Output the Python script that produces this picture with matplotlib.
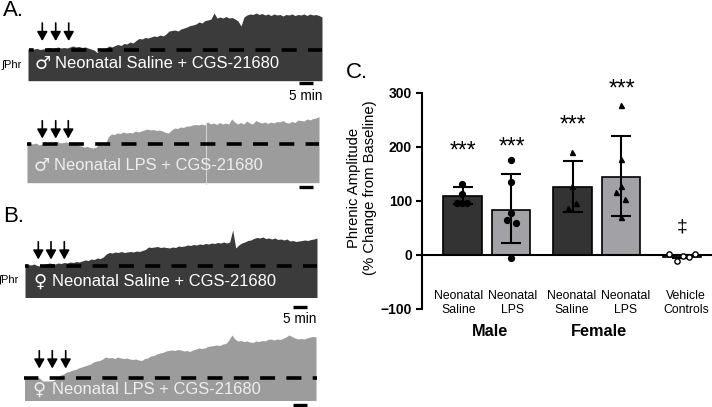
import matplotlib
matplotlib.use('Agg')
import matplotlib.pyplot as plt
import numpy as np

plt.rcParams['font.family'] = ['Liberation Sans', 'DejaVu Sans']
plt.rcParams['lines.scale_dashes'] = False

a1_top = [49,49.5,49,48.5,49.5,49,48.5,47.5,48.5,48,47,48,47.5,48,47,46,47,46.5,47.5,47,48,49,50,52.5,50,49,48,46,47,45.5,44.5,45.5,43.5,44,42,43,40.5,38.5,39,37.5,38,37,36,36.5,35,36,34,31,30.5,30,31,29,28,27,25.5,25,24,22,23,20.5,20,19,13,18,17,18,16.5,18,17.5,19,21,26,17,15,14,14.5,13,14.5,13.5,15,14,15.5,14,15,14.5,16,14.5,15,14,15.5,14.5,15,14,15.5,14,15,14.5,15.5,17]
a2_top = [144,143,144,143,145,144,143,144.5,143,142,141.5,143,142.5,142,143,143,144,145,146,147,146.5,147.5,148,147,143.5,145,144,137,134,134.5,133,133.5,132,133,132.5,133,131,132,131,130,129,130,129.5,130.5,130,131,132.5,133,130,128,128.5,127,127.5,126,126,125,124.5,125,124,125,122,124,123,124.5,122.5,124,123,124,119,122,124,122.5,124,121,123,124,120.5,122,123,122,123.5,122,123,121.5,122,120.5,122.5,123,121.5,122.5,120,120.5,121,119,120,118.5,118,116.5]
b1_top = [264,264.5,265,264,265.5,266,264.5,264,263,263.5,264,263,263.5,262.5,263,262,262.5,261.5,262,261,260,260.5,259,259.5,258,258.5,257,254,252.5,253,252,252.5,251.5,252.5,252,251.5,252,251,251.5,250.5,249.5,247,247.5,247,246.5,247.5,247,247.5,248,247,247.5,246,246.5,246,245,245.5,244.5,245,244,244.5,243.5,244,243,243.5,242.5,243,242,243,242,230,248,245,243,242,240.5,240,238.5,237.5,238,237,238.5,238,239,238,239.5,239,240,239,241,240.5,241.5,241,240.5,240,240.5,239.5,239,238]
b2_top = [377,377,377,377,377,378,381,381,381,381,380,377,375,374,372,371.5,370,369.5,368,367,366,365,364,362,361,360.5,359,357,358,357.5,358.5,357,358,358.5,358,359,359.5,359,360,360.5,358.5,358,356,355.5,354,353,352.5,351,350.5,350,350.5,349.5,350,351,350.5,351.5,350,349,348,348.5,348,346.5,346,345.5,345,345.5,344,343.5,340,335,339,341,340.5,341.5,341,342,342.5,341,341.5,340.5,341,339.5,339,340,339,339.5,338.5,337,335,336.5,338,339,338.5,339,338,337,336.5,337]

# bar chart values
bar_means = [108, 83, 125, 144, -4]
err_low = [93, 21, 79, 72, -6]
err_high = [126, 149, 173, 220, 0]
bar_colors = ['#333333', '#a2a2a6', '#333333', '#a2a2a6', '#a2a2a6']
bar_x = [462.5, 511, 572.5, 621, 682]
male_sal = [131, 113, 96, 96, 96]
male_lps = [175, 135, 78, 65, 59, -7]
fem_sal = [191, 127, 87, 95]
fem_lps = [278, 177, 127, 117, 103, 69]
vehicle = [1, -11, -5, 1, -2]
male_sal_x = [462.3, 462.3, 456.7, 462.3, 467.3]
male_lps_x = [511.3, 511.3, 511.3, 506.7, 515.7, 511.3]
fem_sal_x = [572.3, 572.3, 568.3, 576.3]
fem_lps_x = [621, 621, 621, 616.3, 625.3, 621]
vehicle_x = [669.3, 677.3, 689.3, 695, 683]
sig_x = [463, 511.7, 573.3, 621.7]
sig_y = [192, 200, 241, 307]
cat_labels = ['Neonatal\nSaline', 'Neonatal\nLPS', 'Neonatal\nSaline', 'Neonatal\nLPS', 'Vehicle\nControls']
cat_x = [459, 513, 572, 626, 686]
y_ticks = [-100, 0, 100, 200, 300]

W, H = 712, 407
fig = plt.figure(figsize=(W/100, H/100), dpi=100)

# panel C, x axis in figure pixels
ax = fig.add_axes([422.3/W, 1-308.7/H, (712-422.3)/W, (308.7-92.7)/H])
ax.set_xlim(422.3, 712)
ax.set_ylim(-100, 300)
ax.patch.set_alpha(0)
for s in ['top', 'right', 'bottom']:
    ax.spines[s].set_visible(False)
ax.spines['left'].set_linewidth(1.5)
ax.set_xticks([])
ax.set_yticks(y_ticks)
ax.tick_params(axis='y', width=1.5, length=4, pad=3.5)
for t in ax.get_yticklabels():
    t.set_fontweight('bold')
    t.set_fontsize(10)
ax.bar(bar_x, bar_means, width=38.5, color=bar_colors, edgecolor='black', linewidth=1.2, zorder=2)
ax.axhline(0, color='black', lw=1.5, zorder=3)
for i in range(5):
    ax.errorbar(bar_x[i], bar_means[i],
                yerr=[[bar_means[i]-err_low[i]], [err_high[i]-bar_means[i]]],
                color='black', lw=1.5, capsize=7.2, capthick=1.5, zorder=4)
ax.plot(male_sal_x, male_sal, 'o', color='black', ms=4.2, zorder=5)
ax.plot(male_lps_x, male_lps, 'o', color='black', ms=4.2, zorder=5)
ax.plot(fem_sal_x, fem_sal, '^', color='black', ms=3.6, zorder=5)
ax.plot(fem_lps_x, fem_lps, '^', color='black', ms=3.6, zorder=5)
ax.plot(vehicle_x, vehicle, 'o', mfc='white', mec='black', mew=1, ms=3.8, zorder=5)
for x, y in zip(sig_x, sig_y):
    ax.text(x, y, '***', fontsize=16.5, ha='center', va='center')
ax.text(682.3, 52, '‡', fontsize=14, ha='center', va='center')

# everything else in pixel coordinates
ov = fig.add_axes([0, 0, 1, 1])
ov.set_xlim(0, W)
ov.set_ylim(H, 0)
ov.axis('off')
ov.patch.set_alpha(0)


def trace(x0, x1, top, bottom, color):
    ov.fill_between(np.linspace(x0, x1, len(top)), top, bottom, color=color, lw=0)


def dash_line(y, x0, x1, first):
    # first = start of a full dash, period 26.3 px and dash 15 px
    off = (x0 - first) % 26.3
    ov.plot([x0, x1], [y, y], color='black', lw=2.6, dash_capstyle='butt',
            linestyle=(off*0.72, (15*0.72, 11.3*0.72)))


def arrows(xs, y0, y1):
    for x in xs:
        ov.annotate('', xy=(x, y1), xytext=(x, y0),
                    arrowprops=dict(arrowstyle='-|>,head_width=0.28,head_length=0.5', color='black',
                                    lw=1.2, mutation_scale=11, shrinkA=0, shrinkB=0))


def scale_bar(x0, x1, y):
    ov.plot([x0, x1], [y, y], color='black', lw=2.4, solid_capstyle='butt')


def label(sym, sym_x, txt_x, y, txt, color):
    ov.text(sym_x, y, sym, color=color, fontsize=13, ha='left', va='center', family='DejaVu Sans')
    ov.text(txt_x, y, txt, color=color, fontsize=11.9, ha='left', va='center')


trace(28, 322, a1_top, 80.7, '#3b3b3b')
trace(27, 319, a2_top, 182.7, '#9c9c9c')
trace(25, 317, b1_top, 297.5, '#3b3b3b')
trace(24.5, 316, b2_top, 400.5, '#9c9c9c')
ov.plot([205.5, 205.5], [122, 184], color='#d8d8d8', lw=0.7)

dash_line(49.7, 29, 322, 45)
dash_line(144.3, 26.7, 319.3, 42.3)
dash_line(265.7, 25, 317, 40)
dash_line(378.3, 24.3, 316.7, 50)

arrows([42.3, 55.7, 68.7], 23, 41)
arrows([42.3, 55.7, 68.3], 120.7, 138.5)
arrows([38.3, 51, 64.3], 241.7, 259.5)
arrows([39.3, 52.3, 65.7], 350.7, 368.5)

scale_bar(299.3, 313.3, 83.3)
scale_bar(299, 313, 186.7)
scale_bar(293.3, 307.3, 306.7)
scale_bar(293.3, 307.3, 405.3)

label('♂', 35, 55, 64, 'Neonatal Saline + CGS-21680', 'white')
label('♂', 33.5, 54, 165.7, 'Neonatal LPS + CGS-21680', '#eeeeee')
label('♀', 33.5, 52, 282, 'Neonatal Saline + CGS-21680', 'white')
label('♀', 32.5, 52, 390, 'Neonatal LPS + CGS-21680', '#eeeeee')

ov.text(322, 96, '5 min', fontsize=9.8, ha='right', va='center')
ov.text(316.7, 319.3, '5 min', fontsize=9.8, ha='right', va='center')
ov.text(2, 65, '∫Phr', fontsize=8, ha='left', va='center')
ov.text(-1, 280, '∫Phr', fontsize=8, ha='left', va='center')
ov.text(3, 11, 'A.', fontsize=16, ha='left', va='center')
ov.text(3, 217, 'B.', fontsize=16, ha='left', va='center')
ov.text(346, 72, 'C.', fontsize=16, ha='left', va='center')

ov.text(362, 188, 'Phrenic Amplitude\n(% Change from Baseline)', fontsize=10.7, rotation=90,
        ha='center', va='center', linespacing=1.15)
for x, s in zip(cat_x, cat_labels):
    ov.text(x, 303, s, fontsize=8.8, ha='center', va='center', linespacing=1.25)
ov.text(490, 331.7, 'Male', fontsize=11.7, fontweight='bold', ha='center', va='center')
ov.text(599, 331.7, 'Female', fontsize=11.7, fontweight='bold', ha='center', va='center')

fig.savefig('out.png', dpi=100)
